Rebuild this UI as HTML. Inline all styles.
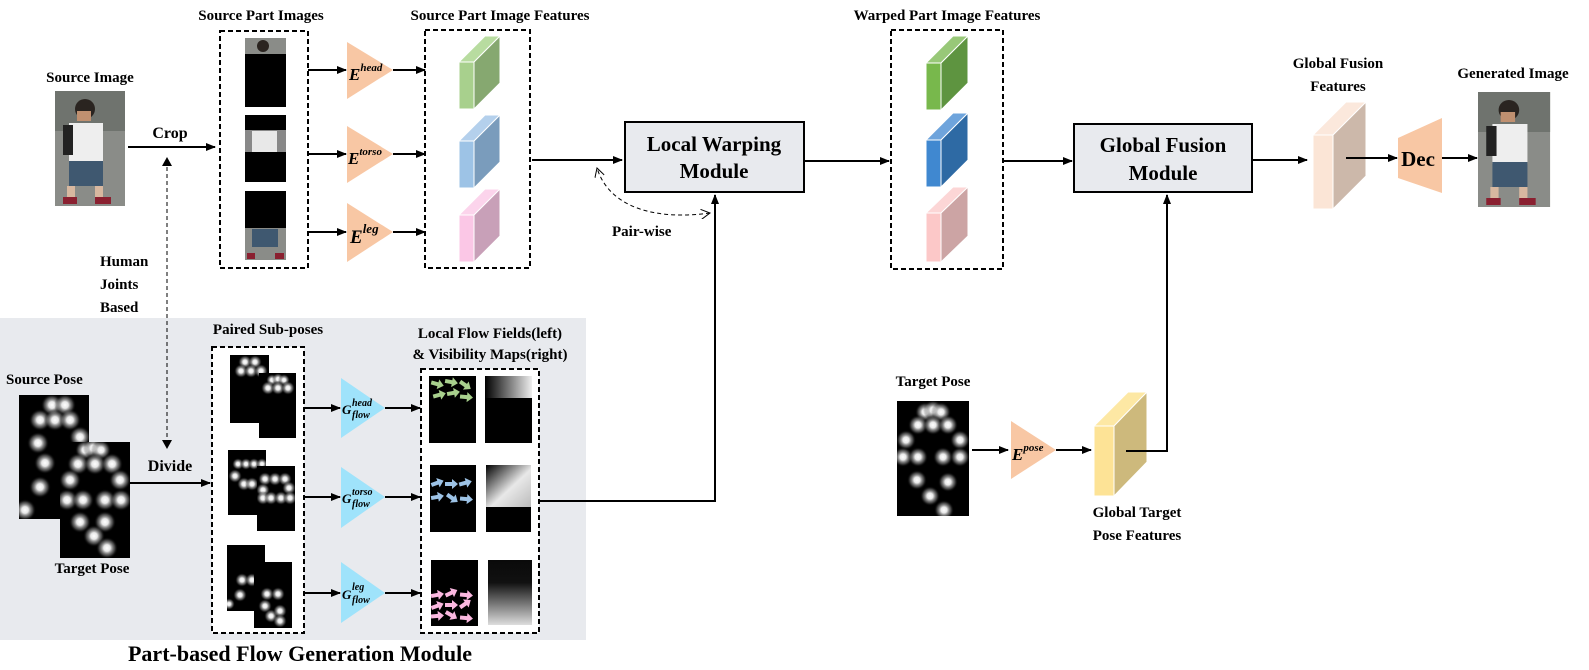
<!DOCTYPE html>
<html><head><meta charset="utf-8"><style>
html,body{margin:0;padding:0;background:#fff}
svg{display:block}
text{font-family:"Liberation Serif",serif;font-weight:bold;fill:#000}
.t{font-size:15px}
.lbl{font-size:16px}
.m{font-size:21px}
.it{font-style:italic;font-size:17px}
.sup{font-style:italic;font-size:11px}
</style></head><body>
<svg width="1589" height="670" viewBox="0 0 1589 670" xmlns="http://www.w3.org/2000/svg">
<defs>
<radialGradient id="b"><stop offset="0" stop-color="#fff"/><stop offset="0.3" stop-color="#e8e8e8"/><stop offset="0.7" stop-color="#888" stop-opacity="0.5"/><stop offset="1" stop-color="#000" stop-opacity="0"/></radialGradient>
<linearGradient id="hg" x1="0" x2="1"><stop offset="0" stop-color="#000"/><stop offset="1" stop-color="#eee"/></linearGradient>
<linearGradient id="tg" x1="0" y1="0" x2="1" y2="1"><stop offset="0" stop-color="#000"/><stop offset="0.55" stop-color="#e8e8e8"/><stop offset="1" stop-color="#bbb"/></linearGradient>
<linearGradient id="lg" x1="0" y1="0" x2="0" y2="1"><stop offset="0" stop-color="#0a0a0a"/><stop offset="0.35" stop-color="#111"/><stop offset="1" stop-color="#ddd"/></linearGradient>
<marker id="a" markerWidth="10" markerHeight="8" refX="9" refY="4" orient="auto" markerUnits="userSpaceOnUse"><path d="M0,0 L10,4 L0,8 z" fill="#000"/></marker>
<marker id="ao" markerWidth="10" markerHeight="10" refX="9" refY="5" orient="auto" markerUnits="userSpaceOnUse"><path d="M0,0 L9,5 L0,10" fill="none" stroke="#000" stroke-width="1"/></marker>
<path id="ar" d="M-6,-2 L1,-2 L1,-5 L7,0 L1,5 L1,2 L-6,2 z"/>
<g id="person">
<rect x="0" y="0" width="70" height="115" fill="#8a8c88"/>
<rect x="0" y="0" width="70" height="40" fill="#6f736e"/>
<circle cx="30" cy="18" r="10" fill="#2a2420"/>
<rect x="22" y="20" width="14" height="10" fill="#c09070"/>
<rect x="14" y="32" width="34" height="40" fill="#eee"/>
<rect x="8" y="34" width="10" height="30" fill="#222"/>
<rect x="14" y="70" width="34" height="25" fill="#3f5870"/>
<rect x="12" y="95" width="8" height="12" fill="#d8b8a0"/>
<rect x="40" y="95" width="8" height="12" fill="#d8b8a0"/>
<rect x="8" y="106" width="14" height="7" fill="#8a2030"/>
<rect x="40" y="106" width="16" height="7" fill="#8a2030"/>
</g>
</defs>

<rect x="0" y="318" width="586" height="322" fill="#e8eaee"/>
<text x="300" y="661" text-anchor="middle" style="font-size:22px">Part-based Flow Generation Module</text>

<text class="t" x="90" y="82" text-anchor="middle">Source Image</text>
<use href="#person" x="55" y="91"/>
<line x1="128" y1="147" x2="215" y2="147" stroke="#000" stroke-width="2" marker-end="url(#a)"/>
<text class="lbl" x="170" y="138" text-anchor="middle">Crop</text>
<line x1="167" y1="160" x2="167" y2="445" stroke="#000" stroke-width="1" stroke-dasharray="4,3"/>
<path d="M162,166 L167,157 L172,166 z"/><path d="M162,440 L167,449 L172,440 z"/>
<text class="t" x="100" y="266">Human</text>
<text class="t" x="100" y="289">Joints</text>
<text class="t" x="100" y="312">Based</text>

<text class="t" x="261" y="20" text-anchor="middle">Source Part Images</text>
<rect x="220" y="31" width="88" height="237" fill="none" stroke="#000" stroke-width="2" stroke-dasharray="5,3"/>
<rect x="245" y="38" width="41" height="69" fill="#000"/>
<rect x="245" y="38" width="41" height="16" fill="#8a8c88"/><circle cx="263" cy="46" r="6" fill="#2a2420"/>
<rect x="245" y="115" width="41" height="67" fill="#000"/>
<rect x="245" y="130" width="41" height="22" fill="#888"/><rect x="252" y="131" width="25" height="21" fill="#e8e8e8"/>
<rect x="245" y="191" width="41" height="69" fill="#000"/>
<rect x="245" y="228" width="41" height="32" fill="#8a8c88"/><rect x="252" y="229" width="26" height="18" fill="#3f5870"/><rect x="247" y="253" width="8" height="6" fill="#8a2030"/><rect x="275" y="253" width="9" height="6" fill="#8a2030"/>

<g fill="#f8c7a4">
<polygon points="347,42 393,70 347,99"/>
<polygon points="347,126 393,154 347,183"/>
<polygon points="347,203 393,232 347,262"/>
</g>
<text x="349" y="80" class="it">E<tspan class="sup" dy="-9">head</tspan></text>
<text x="348" y="164" class="it">E<tspan class="sup" dy="-9">torso</tspan></text>
<text x="350" y="243" class="it" style="font-size:19px">E<tspan class="sup" style="font-size:13px" dy="-10">leg</tspan></text>
<g stroke="#000" stroke-width="2" marker-end="url(#a)">
<line x1="308" y1="70" x2="346" y2="70"/><line x1="393" y1="70" x2="425" y2="70"/>
<line x1="308" y1="154" x2="346" y2="154"/><line x1="393" y1="154" x2="425" y2="154"/>
<line x1="308" y1="232" x2="346" y2="232"/><line x1="393" y1="232" x2="425" y2="232"/>
</g>

<text class="t" x="500" y="20" text-anchor="middle">Source Part Image Features</text>
<rect x="425" y="30" width="105" height="238" fill="none" stroke="#000" stroke-width="2" stroke-dasharray="5,3"/>
<g stroke="#fff" stroke-width="1">
<polygon points="459,62 485,36 500,36 474,62" fill="#b8dca0"/><polygon points="474,62 500,36 500,83 474,109" fill="#86a870"/><rect x="459" y="62" width="15" height="47" fill="#a8d08d"/>
<polygon points="459,141 485,115 500,115 474,141" fill="#b4d0ec"/><polygon points="474,141 500,115 500,162 474,188" fill="#7a9cbc"/><rect x="459" y="141" width="15" height="47" fill="#9dc3e6"/>
<polygon points="459,215 485,189 500,189 474,215" fill="#fcd4ec"/><polygon points="474,215 500,189 500,236 474,262" fill="#c8a0b8"/><rect x="459" y="215" width="15" height="47" fill="#fbc7e6"/>
</g>
<line x1="532" y1="160" x2="622" y2="160" stroke="#000" stroke-width="2" marker-end="url(#a)"/>

<rect x="625" y="122" width="179" height="70" fill="#e8eaee" stroke="#000" stroke-width="2"/>
<text class="m" x="714" y="151" text-anchor="middle">Local Warping</text>
<text class="m" x="714" y="178" text-anchor="middle">Module</text>
<path d="M710,213 C660,220 610,210 597,168" fill="none" stroke="#000" stroke-width="1" stroke-dasharray="4,3" marker-end="url(#ao)"/>
<path d="M600,168 C620,200 660,220 710,213" fill="none" stroke="none" marker-end="url(#ao)"/>
<text class="t" x="612" y="236">Pair-wise</text>
<polyline points="539,501 715,501 715,195" fill="none" stroke="#000" stroke-width="2" marker-end="url(#a)"/>
<line x1="804" y1="161" x2="889" y2="161" stroke="#000" stroke-width="2" marker-end="url(#a)"/>

<text class="t" x="947" y="20" text-anchor="middle">Warped Part Image Features</text>
<rect x="891" y="30" width="112" height="239" fill="none" stroke="#000" stroke-width="2" stroke-dasharray="5,3"/>
<g stroke="#fff" stroke-width="1">
<polygon points="926,63 953,36 968,36 941,63" fill="#98c878"/><polygon points="941,63 968,36 968,83 941,110" fill="#5e9440"/><rect x="926" y="63" width="15" height="47" fill="#78b84c"/>
<polygon points="926,140 953,113 968,113 941,140" fill="#6ea4dc"/><polygon points="941,140 968,113 968,160 941,187" fill="#2e6aa4"/><rect x="926" y="140" width="15" height="47" fill="#4088d0"/>
<polygon points="926,213 953,187 968,187 941,213" fill="#fcd6d6"/><polygon points="941,213 968,187 968,236 941,262" fill="#cca4a4"/><rect x="926" y="213" width="15" height="49" fill="#fcc8c8"/>
</g>
<line x1="1003" y1="161" x2="1072" y2="161" stroke="#000" stroke-width="2" marker-end="url(#a)"/>

<rect x="1074" y="124" width="178" height="68" fill="#e8eaee" stroke="#000" stroke-width="2"/>
<text class="m" x="1163" y="152" text-anchor="middle">Global Fusion</text>
<text class="m" x="1163" y="180" text-anchor="middle">Module</text>
<line x1="1252" y1="160" x2="1307" y2="160" stroke="#000" stroke-width="2" marker-end="url(#a)"/>

<text class="t" x="1338" y="68" text-anchor="middle">Global Fusion</text>
<text class="t" x="1338" y="91" text-anchor="middle">Features</text>
<g stroke="#fff" stroke-width="1">
<polygon points="1313,135 1346,102 1366,102 1333,135" fill="#fbe8dc"/><polygon points="1333,135 1366,102 1366,176 1333,209" fill="#ccb8aa"/><rect x="1313" y="135" width="20" height="74" fill="#fbe5d6"/>
</g>
<line x1="1346" y1="158" x2="1397" y2="158" stroke="#000" stroke-width="2" marker-end="url(#a)"/>
<polygon points="1398,138 1442,118 1442,193 1398,178" fill="#f8c7a4"/>
<text class="m" x="1418" y="166" text-anchor="middle">Dec</text>
<line x1="1442" y1="158" x2="1477" y2="158" stroke="#000" stroke-width="2" marker-end="url(#a)"/>
<text class="t" x="1513" y="78" text-anchor="middle">Generated Image</text>
<use href="#person" transform="translate(1478,92) scale(1.03,1)"/>

<text class="t" x="933" y="386" text-anchor="middle">Target Pose</text>
<svg x="897" y="401" width="72" height="115" viewBox="897 401 72 115">
<rect x="897" y="401" width="72" height="115" fill="#000"/>
<g fill="url(#b)">
<circle cx="925" cy="412" r="10"/><circle cx="933" cy="410" r="10"/><circle cx="941" cy="412" r="10"/>
<circle cx="918" cy="425" r="10"/><circle cx="933" cy="425" r="10"/><circle cx="948" cy="425" r="10"/>
<circle cx="906" cy="440" r="10"/><circle cx="960" cy="440" r="10"/>
<circle cx="903" cy="457" r="10"/><circle cx="918" cy="457" r="10"/><circle cx="943" cy="457" r="10"/><circle cx="960" cy="457" r="10"/>
<circle cx="917" cy="480" r="10"/><circle cx="948" cy="482" r="10"/><circle cx="930" cy="496" r="10"/><circle cx="944" cy="510" r="10"/>
</g></svg>
<line x1="972" y1="450" x2="1008" y2="450" stroke="#000" stroke-width="2" marker-end="url(#a)"/>
<polygon points="1011,421 1056,450 1011,479" fill="#f8c7a4"/>
<text x="1012" y="460" class="it">E<tspan class="sup" dy="-9">pose</tspan></text>
<line x1="1056" y1="450" x2="1091" y2="450" stroke="#000" stroke-width="2" marker-end="url(#a)"/>
<g stroke="#fff" stroke-width="1">
<polygon points="1094,426 1128,392 1147,392 1114,426" fill="#fde8a4"/><polygon points="1114,426 1147,392 1147,462 1114,496" fill="#cdb97c"/><rect x="1094" y="426" width="20" height="70" fill="#fde396"/>
</g>
<polyline points="1126,451 1167,451 1167,195" fill="none" stroke="#000" stroke-width="2" marker-end="url(#a)"/>
<text class="t" x="1137" y="517" text-anchor="middle">Global Target</text>
<text class="t" x="1137" y="540" text-anchor="middle">Pose Features</text>

<text class="t" x="6" y="384">Source Pose</text>
<svg x="19" y="395" width="70" height="124" viewBox="19 395 70 124">
<rect x="19" y="395" width="70" height="124" fill="#000"/>
<g fill="url(#b)">
<circle cx="52" cy="405" r="11"/><circle cx="65" cy="405" r="11"/><circle cx="40" cy="420" r="11"/><circle cx="55" cy="420" r="11"/><circle cx="70" cy="420" r="11"/>
<circle cx="38" cy="443" r="11"/><circle cx="80" cy="437" r="11"/><circle cx="45" cy="463" r="11"/><circle cx="40" cy="487" r="11"/><circle cx="25" cy="510" r="11"/>
</g></svg>
<svg x="60" y="442" width="70" height="116" viewBox="60 442 70 116">
<rect x="60" y="442" width="70" height="116" fill="#000"/>
<g fill="url(#b)">
<circle cx="85" cy="450" r="10"/><circle cx="93" cy="448" r="10"/><circle cx="101" cy="450" r="10"/>
<circle cx="78" cy="464" r="11"/><circle cx="95" cy="464" r="11"/><circle cx="112" cy="464" r="11"/>
<circle cx="70" cy="480" r="11"/><circle cx="120" cy="480" r="11"/>
<circle cx="67" cy="500" r="11"/><circle cx="83" cy="500" r="11"/><circle cx="105" cy="500" r="11"/><circle cx="121" cy="500" r="11"/>
<circle cx="80" cy="522" r="11"/><circle cx="105" cy="522" r="11"/><circle cx="94" cy="536" r="11"/><circle cx="107" cy="548" r="11"/>
</g></svg>
<text class="t" x="92" y="573" text-anchor="middle">Target Pose</text>
<text class="lbl" x="170" y="471" text-anchor="middle">Divide</text>
<line x1="130" y1="483" x2="210" y2="483" stroke="#000" stroke-width="2" marker-end="url(#a)"/>

<text class="t" x="268" y="334" text-anchor="middle">Paired Sub-poses</text>
<rect x="212" y="347" width="92" height="286" fill="#fff" stroke="#000" stroke-width="2" stroke-dasharray="5,3"/>
<svg x="230" y="355" width="39" height="68" viewBox="230 355 39 68"><rect x="230" y="355" width="39" height="68" fill="#000"/>
<g fill="url(#b)"><circle cx="245" cy="362" r="7"/><circle cx="255" cy="362" r="7"/><circle cx="241" cy="371" r="7"/><circle cx="251" cy="371" r="7"/><circle cx="261" cy="371" r="7"/></g></svg>
<svg x="259" y="373" width="37" height="65" viewBox="259 373 37 65"><rect x="259" y="373" width="37" height="65" fill="#000"/>
<g fill="url(#b)"><circle cx="272" cy="380" r="6"/><circle cx="278" cy="379" r="6"/><circle cx="284" cy="380" r="6"/><circle cx="268" cy="388" r="7"/><circle cx="278" cy="388" r="7"/><circle cx="288" cy="388" r="7"/></g></svg>
<svg x="228" y="450" width="38" height="65" viewBox="228 450 38 65"><rect x="228" y="450" width="38" height="65" fill="#000"/>
<g fill="url(#b)"><circle cx="238" cy="464" r="6"/><circle cx="246" cy="464" r="6"/><circle cx="254" cy="464" r="6"/><circle cx="262" cy="464" r="6"/><circle cx="235" cy="476" r="7"/><circle cx="244" cy="484" r="7"/><circle cx="252" cy="484" r="7"/></g></svg>
<svg x="257" y="466" width="38" height="65" viewBox="257 466 38 65"><rect x="257" y="466" width="38" height="65" fill="#000"/>
<g fill="url(#b)"><circle cx="265" cy="479" r="7"/><circle cx="275" cy="479" r="7"/><circle cx="285" cy="479" r="7"/><circle cx="263" cy="490" r="7"/><circle cx="289" cy="488" r="7"/><circle cx="263" cy="498" r="7"/><circle cx="271" cy="498" r="7"/><circle cx="281" cy="498" r="7"/><circle cx="290" cy="498" r="7"/></g></svg>
<svg x="227" y="545" width="38" height="66" viewBox="227 545 38 66"><rect x="227" y="545" width="38" height="66" fill="#000"/>
<g fill="url(#b)"><circle cx="242" cy="580" r="7"/><circle cx="252" cy="580" r="7"/><circle cx="240" cy="595" r="7"/><circle cx="229" cy="604" r="6"/></g></svg>
<svg x="254" y="562" width="38" height="66" viewBox="254 562 38 66"><rect x="254" y="562" width="38" height="66" fill="#000"/>
<g fill="url(#b)"><circle cx="267" cy="594" r="7"/><circle cx="278" cy="594" r="7"/><circle cx="265" cy="606" r="7"/><circle cx="271" cy="616" r="7"/><circle cx="280" cy="611" r="7"/><circle cx="280" cy="621" r="7"/></g></svg>

<g fill="#9fe3fb">
<polygon points="341,378 385,408 341,438"/>
<polygon points="341,467 385,497 341,528"/>
<polygon points="341,562 385,593 341,623"/>
</g>
<g style="font-family:'DejaVu Serif',serif;font-style:italic;font-weight:bold">
<text x="342" y="414" style="font-size:13px">G</text><text x="352" y="406" style="font-size:10px">head</text><text x="352" y="418" style="font-size:10px">flow</text>
<text x="342" y="503" style="font-size:13px">G</text><text x="352" y="495" style="font-size:10px">torso</text><text x="352" y="507" style="font-size:10px">flow</text>
<text x="342" y="599" style="font-size:13px">G</text><text x="352" y="590" style="font-size:10px">leg</text><text x="352" y="603" style="font-size:10px">flow</text>
</g>
<g stroke="#000" stroke-width="2" marker-end="url(#a)">
<line x1="304" y1="408" x2="340" y2="408"/><line x1="385" y1="408" x2="420" y2="408"/>
<line x1="304" y1="497" x2="340" y2="497"/><line x1="385" y1="497" x2="420" y2="497"/>
<line x1="304" y1="593" x2="340" y2="593"/><line x1="385" y1="593" x2="420" y2="593"/>
</g>

<text class="t" x="490" y="338" text-anchor="middle">Local Flow Fields(left)</text>
<text class="t" x="490" y="359" text-anchor="middle">&amp; Visibility Maps(right)</text>
<rect x="421" y="369" width="118" height="264" fill="#fff" stroke="#000" stroke-width="2" stroke-dasharray="5,3"/>
<rect x="429" y="376" width="47" height="67" fill="#000"/>
<rect x="485" y="376" width="47" height="67" fill="#000"/><rect x="485" y="376" width="47" height="22" fill="url(#hg)"/>
<rect x="430" y="465" width="46" height="67" fill="#000"/>
<rect x="486" y="465" width="45" height="67" fill="#000"/><rect x="486" y="465" width="45" height="42" fill="url(#tg)"/>
<rect x="431" y="560" width="47" height="66" fill="#000"/>
<rect x="488" y="560" width="44" height="65" fill="url(#lg)"/>
<g fill="#a8d08d">
<use href="#ar" transform="translate(437,384) rotate(15)"/><use href="#ar" transform="translate(451,382) rotate(10)"/><use href="#ar" transform="translate(465,385) rotate(35)"/>
<use href="#ar" transform="translate(439,395) rotate(-15)"/><use href="#ar" transform="translate(453,393) rotate(-10)"/><use href="#ar" transform="translate(466,397) rotate(5)"/>
</g>
<g fill="#9dc3e6">
<use href="#ar" transform="translate(437,483) rotate(-20)"/><use href="#ar" transform="translate(451,484) rotate(0)"/><use href="#ar" transform="translate(465,483) rotate(-15)"/>
<use href="#ar" transform="translate(437,497) rotate(-10)"/><use href="#ar" transform="translate(452,498) rotate(35)"/><use href="#ar" transform="translate(466,499) rotate(5)"/>
</g>
<g fill="#fbb8e0">
<use href="#ar" transform="translate(437,595) rotate(-10)"/><use href="#ar" transform="translate(451,593) rotate(-25)"/><use href="#ar" transform="translate(466,595) rotate(5)"/>
<use href="#ar" transform="translate(437,606) rotate(-20)"/><use href="#ar" transform="translate(451,605) rotate(0)"/><use href="#ar" transform="translate(465,604) rotate(-35)"/>
<use href="#ar" transform="translate(437,616) rotate(-5)"/><use href="#ar" transform="translate(451,615) rotate(30)"/><use href="#ar" transform="translate(466,618) rotate(5)"/>
</g>
</svg>
</body></html>
